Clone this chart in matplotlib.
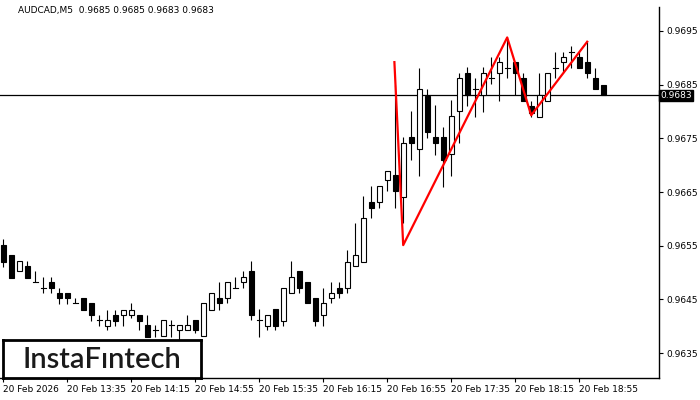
import matplotlib
matplotlib.use("Agg")
import matplotlib.pyplot as plt
from matplotlib.patches import Rectangle

# ---- data (AUDCAD M5) ----
opens = [0.96551, 0.96533, 0.96502, 0.96512, 0.96482, 0.96472, 0.96482, 0.96462, 0.96462, 0.96443,
         0.96453, 0.96444, 0.96412, 0.96401, 0.96421, 0.96421, 0.96421, 0.96421, 0.96402, 0.96393,
         0.96382, 0.96402, 0.96392, 0.96392, 0.96412, 0.96382, 0.96431, 0.96452, 0.96452, 0.96472,
         0.96482, 0.96502, 0.96412, 0.96401, 0.96432, 0.96410, 0.96461, 0.96503, 0.96482, 0.96452,
         0.96421, 0.96452, 0.96472, 0.96472, 0.96512, 0.96520, 0.96631, 0.96631, 0.96672, 0.96682,
         0.96641, 0.96753, 0.96731, 0.96829, 0.96753, 0.96753, 0.96720, 0.96801, 0.96871, 0.96841,
         0.96831, 0.96862, 0.96871, 0.96881, 0.96892, 0.96862, 0.96811, 0.96790, 0.96820, 0.96881,
         0.96892, 0.96910, 0.96901, 0.96892, 0.96862, 0.96850]
highs = [0.96562, 0.96533, 0.96521, 0.96521, 0.96503, 0.96492, 0.96492, 0.96472, 0.96462, 0.96452,
         0.96453, 0.96444, 0.96421, 0.96431, 0.96431, 0.96431, 0.96443, 0.96421, 0.96421, 0.96402,
         0.96412, 0.96412, 0.96402, 0.96421, 0.96412, 0.96443, 0.96461, 0.96482, 0.96482, 0.96491,
         0.96502, 0.96521, 0.96432, 0.96421, 0.96432, 0.96472, 0.96521, 0.96503, 0.96482, 0.96452,
         0.96472, 0.96482, 0.96482, 0.96542, 0.96592, 0.96643, 0.96661, 0.96661, 0.96690, 0.96849,
         0.96753, 0.96801, 0.96881, 0.96841, 0.96812, 0.96771, 0.96821, 0.96871, 0.96882, 0.96862,
         0.96882, 0.96901, 0.96901, 0.96938, 0.96892, 0.96871, 0.96820, 0.96871, 0.96871, 0.96910,
         0.96910, 0.96922, 0.96910, 0.96929, 0.96881, 0.96850]
lows = [0.96511, 0.96490, 0.96502, 0.96490, 0.96482, 0.96461, 0.96461, 0.96441, 0.96441, 0.96443,
        0.96431, 0.96410, 0.96400, 0.96392, 0.96400, 0.96400, 0.96415, 0.96392, 0.96380, 0.96380,
        0.96382, 0.96380, 0.96374, 0.96392, 0.96387, 0.96382, 0.96431, 0.96431, 0.96443, 0.96472,
        0.96472, 0.96412, 0.96380, 0.96392, 0.96392, 0.96401, 0.96461, 0.96461, 0.96443, 0.96401,
        0.96401, 0.96443, 0.96452, 0.96461, 0.96512, 0.96520, 0.96601, 0.96621, 0.96651, 0.96621,
        0.96593, 0.96710, 0.96680, 0.96751, 0.96719, 0.96660, 0.96680, 0.96741, 0.96811, 0.96790,
        0.96800, 0.96851, 0.96820, 0.96862, 0.96831, 0.96820, 0.96790, 0.96790, 0.96820, 0.96862,
        0.96871, 0.96881, 0.96881, 0.96862, 0.96841, 0.96830]
closes = [0.96520, 0.96490, 0.96521, 0.96490, 0.96482, 0.96472, 0.96472, 0.96452, 0.96452, 0.96443,
          0.96431, 0.96421, 0.96412, 0.96412, 0.96410, 0.96431, 0.96431, 0.96410, 0.96380, 0.96393,
          0.96412, 0.96402, 0.96402, 0.96402, 0.96392, 0.96443, 0.96461, 0.96443, 0.96482, 0.96472,
          0.96491, 0.96421, 0.96412, 0.96421, 0.96401, 0.96472, 0.96491, 0.96472, 0.96443, 0.96410,
          0.96443, 0.96461, 0.96461, 0.96520, 0.96532, 0.96601, 0.96621, 0.96661, 0.96690, 0.96651,
          0.96741, 0.96741, 0.96841, 0.96761, 0.96741, 0.96710, 0.96791, 0.96862, 0.96831, 0.96841,
          0.96871, 0.96862, 0.96892, 0.96881, 0.96871, 0.96820, 0.96797, 0.96831, 0.96871, 0.96881,
          0.96901, 0.96910, 0.96881, 0.96871, 0.96841, 0.96830]

time_labels = ["20 Feb 2026", "20 Feb 13:35", "20 Feb 14:15", "20 Feb 14:55", "20 Feb 15:35",
               "20 Feb 16:15", "20 Feb 16:55", "20 Feb 17:35", "20 Feb 18:15", "20 Feb 18:55"]
time_label_idx = [0, 8, 16, 24, 32, 40, 48, 56, 64, 72]

price_ticks = [0.9635, 0.9645, 0.9655, 0.9665, 0.9675, 0.9685, 0.9695]
price_tick_labels = ["0.9635", "0.9645", "0.9655", "0.9665", "0.9675", "0.9685", "0.9695"]

current_price = 0.9683
title_text = "AUDCAD,M5  0.9685 0.9685 0.9683 0.9683"

pattern_idx = [48.9, 50, 63, 66, 73]
pattern_price = [0.96892, 0.96551, 0.96938, 0.96793, 0.96930]

# ---- figure ----
W, H = 700, 400
fig = plt.figure(figsize=(7, 4), dpi=100)
ax_l, ax_r, ax_t, ax_b = 0, 659, 7, 378
ax = fig.add_axes([ax_l / W, 1 - ax_b / H, (ax_r - ax_l) / W, (ax_b - ax_t) / H])

px_per_idx = 8.0
x0_px = 3.2
ax.set_xlim(-x0_px / px_per_idx, (ax_r - ax_l - x0_px) / px_per_idx)
ppp = 0.001 / 53.667  # price per pixel
ax.set_ylim(0.9695 - (ax_b - 31) * ppp, 0.9695 + (31 - ax_t) * ppp)

bw = 0.6
lw = 0.8
for i, (o, h, l, c) in enumerate(zip(opens, highs, lows, closes)):
    ax.plot([i, i], [l, h], color="black", lw=lw, solid_capstyle="butt", zorder=2)
    if abs(c - o) < 1e-7:
        ax.plot([i - bw / 2, i + bw / 2], [o, o], color="black", lw=lw, zorder=3)
    else:
        fc = "black" if c < o else "white"
        ax.add_patch(Rectangle((i - bw / 2, min(o, c)), bw, abs(c - o),
                               facecolor=fc, edgecolor="black", lw=lw, zorder=3))

ax.axhline(current_price, color="black", lw=0.9, zorder=1)

ax.plot(pattern_idx, pattern_price, color="#ff0000", lw=1.6, zorder=5)

# axes styling
for s in ["left", "top"]:
    ax.spines[s].set_visible(False)
ax.spines["right"].set_linewidth(1.0)
ax.spines["bottom"].set_linewidth(1.0)
ax.yaxis.tick_right()
ax.set_yticks(price_ticks)
ax.set_yticklabels(price_tick_labels)
ax.tick_params(axis="y", direction="out", length=3, width=0.8, labelsize=6.5, pad=2)
ax.set_xticks(time_label_idx)
ax.set_xticklabels(time_labels, ha="left")
ax.tick_params(axis="x", direction="out", length=3, width=0.8, labelsize=6.5, pad=2)

# current price tag
ax.text(1.0015, current_price, "0.9683", transform=ax.get_yaxis_transform(),
        ha="left", va="center", fontsize=6.5, color="white",
        bbox=dict(boxstyle="square,pad=0.15", facecolor="black", edgecolor="black"),
        zorder=10, clip_on=False)

# title
fig.text(18 / W, 1 - 11 / H, title_text, fontsize=6.5, ha="left", va="center")

# logo
logo_ax = fig.add_axes([3 / W, 1 - 378 / H, 198 / W, 38 / H])
logo_ax.set_xticks([])
logo_ax.set_yticks([])
for s in logo_ax.spines.values():
    s.set_linewidth(2.0)
logo_ax.set_facecolor("white")
logo_ax.text(0.5, 0.47, "InstaF\u0131ntech", ha="center", va="center",
             fontsize=21, color="#1a1a1a", family="Lato", fontweight="semibold",
             transform=logo_ax.transAxes)

fig.savefig("out.png", dpi=100)
